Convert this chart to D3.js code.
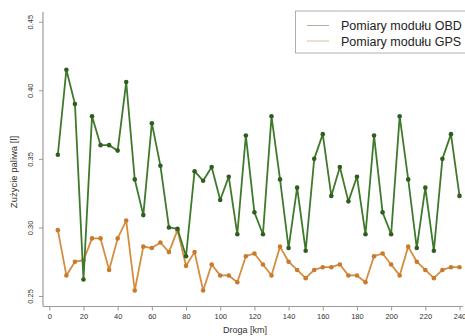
<!DOCTYPE html>
<html>
<head>
<meta charset="utf-8">
<script src="https://cdn.jsdelivr.net/npm/d3@7"></script>
<style>
  body { margin: 0; background: #fff; }
  svg { font-family: "Liberation Sans", Arial, sans-serif; }
</style>
</head>
<body>
<div id="chart"></div>
<script>
const width = 465;
const height = 336;

// droga w km
const distance = [5, 10, 15, 20, 25, 30, 35, 40, 45, 50, 55, 60, 65, 70, 75, 80,
  85, 90, 95, 100, 105, 110, 115, 120, 125, 130, 135, 140, 145, 150, 155, 160,
  165, 170, 175, 180, 185, 190, 195, 200, 205, 210, 215, 220, 225, 230, 235, 240];

const obdValues = [0.353, 0.415, 0.390, 0.262, 0.381, 0.360, 0.360, 0.356, 0.406, 0.335,
  0.309, 0.376, 0.345, 0.300, 0.299, 0.279, 0.341, 0.334, 0.344, 0.320,
  0.337, 0.295, 0.367, 0.311, 0.295, 0.381, 0.335, 0.285, 0.329, 0.283,
  0.350, 0.368, 0.323, 0.344, 0.319, 0.337, 0.295, 0.367, 0.311, 0.295,
  0.381, 0.335, 0.285, 0.329, 0.283, 0.350, 0.368, 0.323];

const gpsValues = [0.298, 0.265, 0.275, 0.276, 0.292, 0.292, 0.269, 0.292, 0.305, 0.254,
  0.286, 0.285, 0.289, 0.282, 0.298, 0.272, 0.282, 0.254, 0.273, 0.265,
  0.265, 0.260, 0.279, 0.281, 0.273, 0.265, 0.286, 0.275, 0.269, 0.263,
  0.269, 0.271, 0.271, 0.273, 0.265, 0.265, 0.260, 0.279, 0.281, 0.273,
  0.265, 0.286, 0.275, 0.269, 0.263, 0.269, 0.271, 0.271];

const xTicks = [0, 20, 40, 60, 80, 100, 120, 140, 160, 180, 200, 220, 240];
const yTicks = [0.25, 0.30, 0.35, 0.40, 0.45];
const seriesNames = ['Pomiary modułu OBD', 'Pomiary modułu GPS'];

const green = '#3f7a2c';
const greenDot = '#2f5e20';
const orange = '#d58d40';
const orangeDot = '#c97a2a';
const axisColor = '#9a9a9a';

const svg = d3.select('#chart')
  .append('svg')
  .attr('width', width)
  .attr('height', height);

const x = d3.scaleLinear().domain([0, 240]).range([49.3, 459.5]);
const y = d3.scaleLinear().domain([0.25, 0.45]).range([296, 21.7]);

// ramka osi
svg.append('line')
  .attr('x1', 43).attr('x2', 43)
  .attr('y1', 12).attr('y2', 306.5)
  .style('stroke', axisColor).style('stroke-width', 1.2);
svg.append('line')
  .attr('x1', 43).attr('x2', 463)
  .attr('y1', 306.5).attr('y2', 306.5)
  .style('stroke', axisColor).style('stroke-width', 1.2);

const xAxis = svg.append('g')
  .attr('transform', 'translate(0,306.5)')
  .call(d3.axisBottom(x).tickValues(xTicks).tickSize(4).tickPadding(3).tickFormat(d3.format('d')));
xAxis.select('.domain').remove();
xAxis.selectAll('line').style('stroke', axisColor);
xAxis.selectAll('text').style('font-size', '7.5px').style('fill', '#333');

const yAxis = svg.append('g')
  .attr('transform', 'translate(43,0)')
  .call(d3.axisLeft(y).tickValues(yTicks).tickSize(4).tickFormat(d3.format('.2f')));
yAxis.select('.domain').remove();
yAxis.selectAll('line').style('stroke', axisColor);
// etykiety obrócone pionowo
yAxis.selectAll('.tick text')
  .attr('text-anchor', 'middle')
  .attr('transform', 'rotate(-90)')
  .attr('x', 0).attr('y', -10).attr('dy', 0)
  .style('font-size', '7.5px').style('fill', '#333');

svg.append('text')
  .attr('transform', 'translate(17,172) rotate(-90)')
  .attr('text-anchor', 'middle')
  .style('font-size', '9.5px')
  .style('fill', '#333')
  .text('Zużycie paliwa [l]');

svg.append('text')
  .attr('x', 245).attr('y', 333)
  .attr('text-anchor', 'middle')
  .style('font-size', '9px')
  .style('fill', '#333')
  .text('Droga [km]');

function drawSeries(values, lineColor, dotColor) {
  const pts = distance.map(function(d, i) { return {km: d, v: values[i]}; });
  svg.append('path')
    .datum(pts)
    .attr('d', d3.line().x(function(d) { return x(d.km); }).y(function(d) { return y(d.v); }))
    .style('fill', 'none')
    .style('stroke', lineColor)
    .style('stroke-width', 1.8)
    .style('stroke-linejoin', 'round');
  svg.selectAll(null)
    .data(pts)
    .enter().append('circle')
    .attr('cx', function(d) { return x(d.km); })
    .attr('cy', function(d) { return y(d.v); })
    .attr('r', 2.3)
    .style('fill', dotColor);
}

drawSeries(gpsValues, orange, orangeDot);
drawSeries(obdValues, green, greenDot);

// legenda
const legend = svg.append('g');
legend.append('rect')
  .attr('x', 295.5).attr('y', 11)
  .attr('width', 175).attr('height', 42)
  .style('fill', '#fff')
  .style('stroke', '#b0b0b0')
  .style('stroke-width', 1);
const legendColors = ['#9fb89a', '#d8c0a0'];
seriesNames.forEach(function(name, i) {
  const ly = 25.5 + i * 15.5;
  legend.append('line')
    .attr('x1', 307).attr('x2', 329)
    .attr('y1', ly).attr('y2', ly)
    .style('stroke', legendColors[i]).style('stroke-width', 1);
  legend.append('text')
    .attr('x', 341).attr('y', ly + 4.5)
    .style('font-size', '12.5px')
    .style('fill', '#222')
    .text(name);
});
</script>
</body>
</html>
